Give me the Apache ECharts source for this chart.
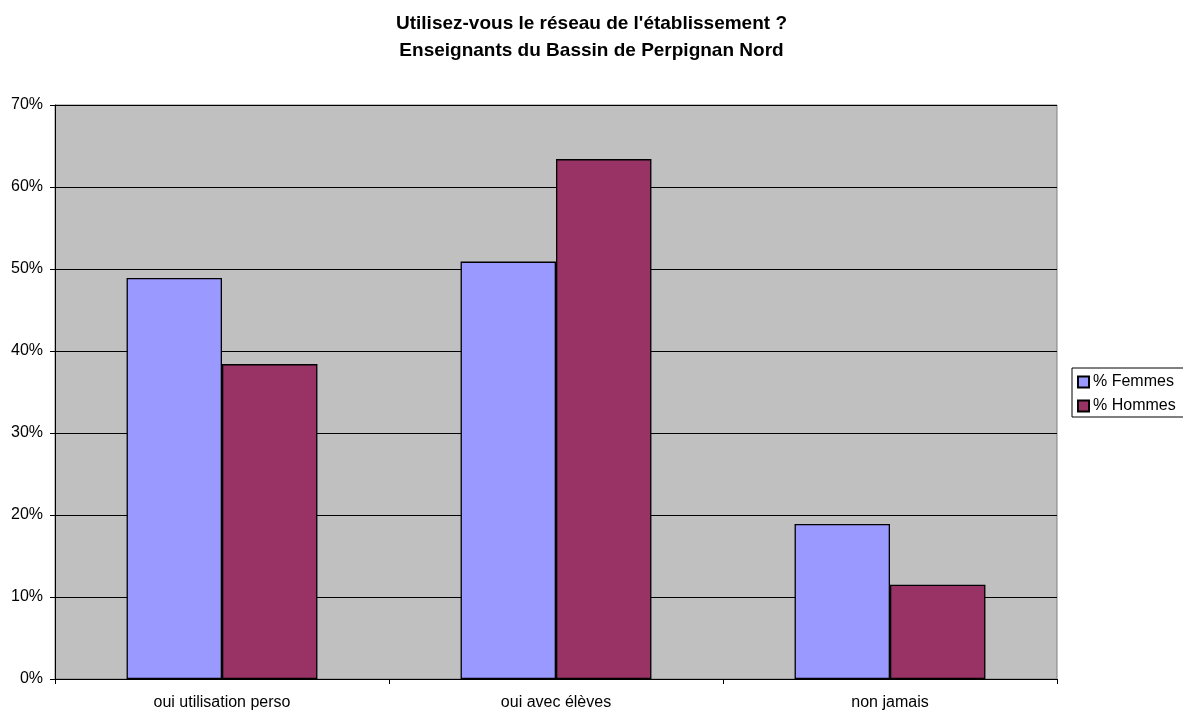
<!DOCTYPE html>
<html>
<head>
<meta charset="utf-8">
<script src="https://cdn.jsdelivr.net/npm/echarts@6/dist/echarts.min.js"></script>
<style>
html,body{margin:0;padding:0;background:#fff;}
#chart{width:1183px;height:710px;}
</style>
</head>
<body>
<div id="chart"></div>
<script>
const categories = ['oui utilisation perso', 'oui avec élèves', 'non jamais'];
const femmes = [48.9, 50.9, 18.9];
const hommes = [38.4, 63.4, 11.5];
const seriesNames = ['% Femmes', '% Hommes'];
const yTicks = [0, 10, 20, 30, 40, 50, 60, 70];

const font = '"Liberation Sans", Arial, sans-serif';
const chart = echarts.init(document.getElementById('chart'), null, {renderer: 'canvas'});
chart.setOption({
  animation: false,
  backgroundColor: '#ffffff',
  title: {
    text: "Utilisez-vous le réseau de l'établissement ?\nEnseignants du Bassin de Perpignan Nord",
    left: 'center',
    top: 5,
    textStyle: {fontFamily: font, fontSize: 19, fontWeight: 'bold', color: '#000', lineHeight: 27}
  },
  legend: {
    orient: 'vertical',
    left: 1072,
    top: 368,
    padding: [6, 30, 3, 5],
    itemGap: 8,
    itemWidth: 11,
    itemHeight: 11,
    borderColor: '#000',
    borderWidth: 1,
    backgroundColor: '#fff',
    borderRadius: 0,
    icon: 'rect',
    textStyle: {fontFamily: font, fontSize: 16, color: '#000', lineHeight: 16, padding: [0, 0, 0, -1]},
    data: seriesNames
  },
  grid: {
    left: 55, right: 126, top: 105, bottom: 31,
    outerBoundsMode: 'none',
    containLabel: false,
    show: true,
    backgroundColor: '#C0C0C0',
    borderColor: '#808080',
    borderWidth: 1
  },
  xAxis: {
    type: 'category',
    data: categories,
    axisLine: {lineStyle: {color: '#000', width: 1}},
    axisTick: {show: true, length: 5, lineStyle: {color: '#000'}},
    axisLabel: {fontFamily: font, fontSize: 16, color: '#000', margin: 16}
  },
  yAxis: {
    type: 'value',
    min: yTicks[0],
    max: yTicks[yTicks.length - 1],
    interval: 10,
    axisLine: {show: true, lineStyle: {color: '#000', width: 1}},
    axisTick: {show: true, length: 5, lineStyle: {color: '#000'}},
    axisLabel: {fontFamily: font, fontSize: 16, color: '#000', formatter: '{value}%', margin: 12},
    splitLine: {show: true, lineStyle: {color: '#000', width: 1}}
  },
  series: [
    {
      name: seriesNames[0], type: 'bar', data: femmes,
      barGap: '0%', barCategoryGap: '42.86%',
      itemStyle: {color: '#9999FF', borderColor: '#000', borderWidth: 1.3}
    },
    {
      name: seriesNames[1], type: 'bar', data: hommes,
      barGap: '0%', barCategoryGap: '42.86%',
      itemStyle: {color: '#993366', borderColor: '#000', borderWidth: 1.3}
    }
  ]
});
</script>
</body>
</html>
